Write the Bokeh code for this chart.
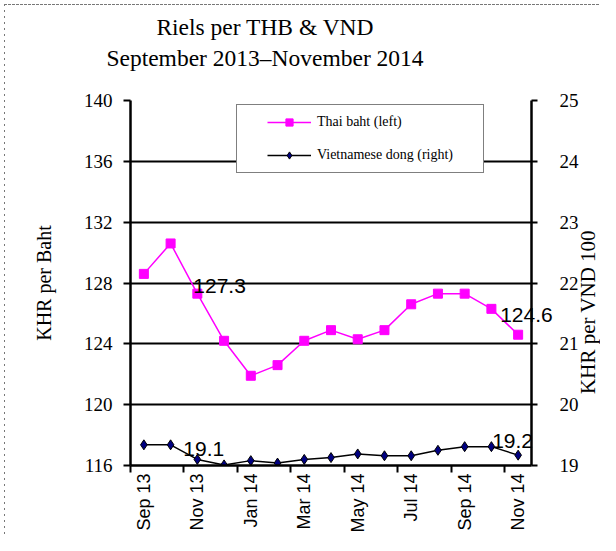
import math
from bokeh.plotting import figure
from bokeh.layouts import column
from bokeh.models import (ColumnDataSource, Range1d, LinearAxis, FixedTicker,
                          Legend, LegendItem, Div)
from bokeh.core.properties import value
from bokeh.embed import file_html
from bokeh.resources import INLINE

# ---- data ----
months = ["Sep 13", "Oct 13", "Nov 13", "Dec 13", "Jan 14", "Feb 14", "Mar 14",
          "Apr 14", "May 14", "Jun 14", "Jul 14", "Aug 14", "Sep 14", "Oct 14", "Nov 14"]
thb = [128.6, 130.6, 127.3, 124.2, 121.9, 122.6, 124.2, 124.9, 124.3, 124.9,
       126.6, 127.3, 127.3, 126.3, 124.6]
vnd = [19.34, 19.34, 19.10, 19.01, 19.08, 19.04, 19.10, 19.13, 19.19, 19.16,
       19.16, 19.25, 19.31, 19.31, 19.17]
left_ticks = [116, 120, 124, 128, 132, 136, 140]
right_ticks = [19, 20, 21, 22, 23, 24, 25]
label_months = [0, 2, 4, 6, 8, 10, 12, 14]
title_lines = ["Riels per THB &amp; VND", "September 2013\u2013November 2014"]
left_label = "KHR per Baht"
right_label = "KHR per VND 100"

idx = list(range(len(months)))
src = ColumnDataSource(dict(x=idx, thb=thb, vnd=vnd))

SERIF = "Liberation Serif"
SANS = "Liberation Sans"

TITLE_H = 70
title = Div(text=("<div style=\"font-family:'Liberation Serif';font-size:23.5px;"
                  "line-height:31px;color:#000;text-align:center;width:530px;"
                  "padding-top:12px;margin:0;\">"
                  + title_lines[0] + "<br>" + title_lines[1] + "</div>"),
            width=600, height=TITLE_H, margin=0)

xr = Range1d(-0.5, len(months) - 0.5)
p = figure(width=600, height=535 - TITLE_H, output_backend="svg", toolbar_location=None,
           x_range=xr,
           y_range=Range1d(left_ticks[0], left_ticks[-1]),
           min_border_left=130, min_border_right=69, min_border_top=100 - TITLE_H,
           min_border_bottom=69, margin=0)
p.outline_line_color = None
p.background_fill_color = "white"
p.border_fill_color = None

vr = Range1d(right_ticks[0], right_ticks[-1])
p.extra_y_ranges = {"vnd": vr}

# grid
p.xgrid.visible = False
p.ygrid.grid_line_color = "black"
p.ygrid.grid_line_width = 2

# left axis
ya = p.yaxis[0]
ya.ticker = FixedTicker(ticks=left_ticks)
ya.axis_line_width = 2.5
ya.axis_line_color = "black"
ya.major_tick_out = 7
ya.major_tick_in = 0
ya.major_tick_line_width = 2
ya.minor_tick_out = 0
ya.minor_tick_in = 0
ya.major_label_text_font = SERIF
ya.major_label_text_font_size = "19px"
ya.major_label_text_color = "black"
ya.major_label_standoff = 11
ya.axis_label = left_label
ya.axis_label_text_font = SERIF
ya.axis_label_text_font_size = "20px"
ya.axis_label_text_font_style = "normal"
ya.axis_label_text_color = "black"
ya.axis_label_standoff = 26

# right axis
ra = LinearAxis(y_range_name="vnd", ticker=FixedTicker(ticks=right_ticks))
ra.axis_line_width = 2.5
ra.axis_line_color = "black"
ra.major_tick_out = 6
ra.major_tick_in = 0
ra.major_tick_line_width = 2
ra.minor_tick_out = 0
ra.minor_tick_in = 0
ra.major_label_text_font = SERIF
ra.major_label_text_font_size = "19px"
ra.major_label_text_color = "black"
ra.major_label_standoff = 22
p.add_layout(ra, "right")

# bottom axis
xa = p.xaxis[0]
xa.ticker = FixedTicker(ticks=label_months,
                        minor_ticks=[m - 0.5 for m in label_months])
xa.major_label_overrides = {m: months[m] for m in label_months}
xa.major_label_orientation = math.pi / 2
xa.major_label_text_font = SANS
xa.major_label_text_font_size = "18px"
xa.major_label_text_color = "black"
xa.major_label_standoff = 1
xa.major_tick_out = 0
xa.major_tick_in = 0
xa.minor_tick_out = 7
xa.minor_tick_in = 0
xa.minor_tick_line_width = 2
xa.minor_tick_line_color = "black"
xa.axis_line_width = 2.5
xa.axis_line_color = "black"

# series
l1 = p.line("x", "thb", source=src, line_color="#FF00FF", line_width=1.5)
m1 = p.scatter("x", "thb", source=src, marker="square", size=9,
               fill_color="#FF00FF", line_color="#FF00FF")
l2 = p.line("x", "vnd", source=src, line_color="black", line_width=1.5,
            y_range_name="vnd")
m2 = p.scatter("x", "vnd", source=src, marker="diamond", size=10,
               fill_color="#000080", line_color="black", line_width=1,
               y_range_name="vnd")

# data labels
lab_thb = ColumnDataSource(dict(x=[2, 14], y=[thb[2], thb[14]],
                                t=[f"{thb[2]:.1f}", f"{thb[14]:.1f}"],
                                dx=[-4, -18], dy=[-8, -20]))
p.text("x", "y", text="t", source=lab_thb, x_offset="dx", y_offset="dy",
       text_font=value(SANS), text_font_size="21px", text_color="black",
       text_baseline="alphabetic", text_align="left", level="overlay")
lab_vnd = ColumnDataSource(dict(x=[2, 14], y=[vnd[2], vnd[14]],
                                t=[f"{vnd[2]:.1f}", f"{vnd[14]:.1f}"],
                                dx=[-14, -26], dy=[-10, -14]))
p.text("x", "y", text="t", source=lab_vnd, x_offset="dx", y_offset="dy",
       y_range_name="vnd",
       text_font=value(SANS), text_font_size="21px", text_color="black",
       text_baseline="alphabetic", text_align="left", level="overlay")

# right axis title (reads bottom-to-top), placed beside the right axis
p.text(x=[xr.end], y=[(vr.start + vr.end) / 2], text=[right_label],
       y_range_name="vnd", x_offset=56, y_offset=29, angle=math.pi / 2,
       text_font=value(SERIF), text_font_size="21px", text_color="black",
       text_align="center", text_baseline="middle", level="overlay")

# legend
legend = Legend(items=[LegendItem(label="Thai baht (left)", renderers=[l1, m1]),
                       LegendItem(label="Vietnamese dong (right)", renderers=[l2, m2])],
                location=(106, 292), orientation="vertical")
legend.label_text_font = SERIF
legend.label_text_font_size = "14px"
legend.label_text_color = "black"
legend.glyph_width = 44
legend.glyph_height = 18
legend.label_standoff = 6
legend.spacing = 15
legend.border_line_color = "black"
legend.border_line_width = 1.5
legend.background_fill_color = "white"
legend.background_fill_alpha = 1.0
legend.margin = 0
try:
    legend.padding = (30, 8)
except Exception:
    legend.padding = 8
p.add_layout(legend, "center")

frame_css = {
    "background-color": "white",
    "background-image": ("repeating-linear-gradient(to right, #777 0px, #777 3px, "
                         "transparent 3px, transparent 4px), "
                         "repeating-linear-gradient(to bottom, #777 0px, #777 2px, "
                         "transparent 2px, transparent 6px)"),
    "background-size": "100% 1px, 1px 100%",
    "background-position": "4px 4px, 4px 4px",
    "background-repeat": "no-repeat, no-repeat",
}
layout = column(title, p, spacing=0, styles=frame_css)
open("out.html", "w").write(file_html(layout, INLINE))
